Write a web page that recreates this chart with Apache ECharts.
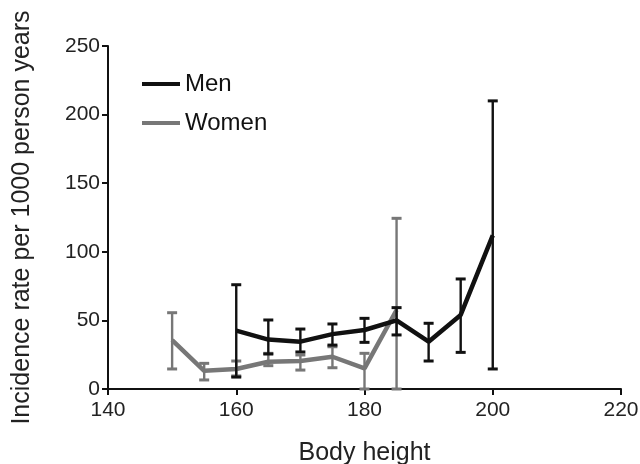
<!DOCTYPE html>
<html>
<head>
<meta charset="utf-8">
<script src="https://cdn.jsdelivr.net/npm/echarts@6/dist/echarts.min.js"></script>
<style>html,body{margin:0;padding:0;background:#fff}#c{width:640px;height:464px}</style>
</head>
<body>
<div id="c"></div>
<script>
var menHeights = [160, 165, 170, 175, 180, 185, 190, 195, 200];
var menRate    = [42.5, 36, 34.5, 40, 43, 50, 34.5, 54, 112];
var menLow     = [8.7, 25.5, 27, 32, 34, 39.4, 20.4, 26.7, 14.6];
var menHigh    = [76, 50.3, 43.7, 47.4, 51.5, 59.3, 47.9, 80.2, 210];

var womenHeights = [150, 155, 160, 165, 170, 175, 180, 185];
var womenRate    = [35.7, 13.3, 14.6, 19.9, 20.4, 23.5, 15, 57.6];
var womenLow     = [14.6, 6.6, 9.5, 17, 13.8, 15.5, 0, 0];
var womenHigh    = [55.6, 18.7, 20.4, 26, 24.8, 30.8, 26, 124.4];

var xTicks = [140, 160, 180, 200, 220];
var yTicks = [0, 50, 100, 150, 200, 250];

var MEN_COLOR = '#111111';
var WOMEN_COLOR = '#777777';
var FONT = 'Liberation Sans, Arial, sans-serif';

function pairs(xs, ys) { return xs.map(function (x, i) { return [x, ys[i]]; }); }
function triples(xs, lo, hi) { return xs.map(function (x, i) { return [x, lo[i], hi[i]]; }); }

function errRender(color) {
  return function (params, api) {
    var x = api.value(0);
    var lo = api.coord([x, api.value(1)]);
    var hi = api.coord([x, api.value(2)]);
    var cap = 5;
    return {
      type: 'group',
      children: [
        { type: 'line', shape: { x1: lo[0], y1: lo[1], x2: hi[0], y2: hi[1] }, style: { stroke: color, lineWidth: 2.4 } },
        { type: 'line', shape: { x1: lo[0] - cap, y1: lo[1], x2: lo[0] + cap, y2: lo[1] }, style: { stroke: color, lineWidth: 3 } },
        { type: 'line', shape: { x1: hi[0] - cap, y1: hi[1], x2: hi[0] + cap, y2: hi[1] }, style: { stroke: color, lineWidth: 3 } }
      ]
    };
  };
}

var chart = echarts.init(document.getElementById('c'), null, { renderer: 'canvas' });
chart.setOption({
  animation: false,
  backgroundColor: '#ffffff',
  grid: { left: 108, right: 19, top: 46, bottom: 75, containLabel: false, outerBoundsMode: 'none' },
  legend: {
    orient: 'vertical',
    left: 137,
    top: 67,
    itemWidth: 38,
    itemHeight: 4,
    itemGap: 15,
    icon: 'rect',
    data: [
      { name: 'Men', itemStyle: { color: MEN_COLOR } },
      { name: 'Women', itemStyle: { color: WOMEN_COLOR } }
    ],
    textStyle: { fontFamily: FONT, fontSize: 24, lineHeight: 24, color: '#111' }
  },
  xAxis: {
    type: 'value',
    min: 140, max: 220, interval: 20,
    name: 'Body height',
    nameLocation: 'middle',
    nameGap: 52,
    nameTextStyle: { fontFamily: FONT, fontSize: 25, color: '#222' },
    axisLine: { show: true, lineStyle: { color: '#111', width: 2 } },
    axisTick: { show: true, length: 6, lineStyle: { color: '#111', width: 2 } },
    axisLabel: { fontFamily: FONT, fontSize: 21, color: '#222', margin: 11 },
    splitLine: { show: false }
  },
  yAxis: {
    type: 'value',
    min: 0, max: 250, interval: 50,
    name: 'Incidence rate per 1000 person years',
    nameLocation: 'middle',
    nameGap: 73,
    nameRotate: 90,
    nameTextStyle: { fontFamily: FONT, fontSize: 25, color: '#222' },
    axisLine: { show: true, lineStyle: { color: '#111', width: 2 } },
    axisTick: { show: true, length: 6, lineStyle: { color: '#111', width: 2 } },
    axisLabel: { fontFamily: FONT, fontSize: 21, color: '#222', margin: 8 },
    splitLine: { show: false }
  },
  series: [
    {
      name: 'Women', type: 'line', data: pairs(womenHeights, womenRate),
      symbol: 'none', lineStyle: { color: WOMEN_COLOR, width: 4.5 }, itemStyle: { color: WOMEN_COLOR }, z: 3
    },
    {
      name: 'WomenErr', type: 'custom', data: triples(womenHeights, womenLow, womenHigh),
      renderItem: errRender(WOMEN_COLOR), encode: { x: 0, y: [1, 2] }, z: 3, silent: true
    },
    {
      name: 'Men', type: 'line', data: pairs(menHeights, menRate),
      symbol: 'none', lineStyle: { color: MEN_COLOR, width: 4.5 }, itemStyle: { color: MEN_COLOR }, z: 4
    },
    {
      name: 'MenErr', type: 'custom', data: triples(menHeights, menLow, menHigh),
      renderItem: errRender(MEN_COLOR), encode: { x: 0, y: [1, 2] }, z: 4, silent: true
    }
  ]
});
</script>
</body>
</html>
